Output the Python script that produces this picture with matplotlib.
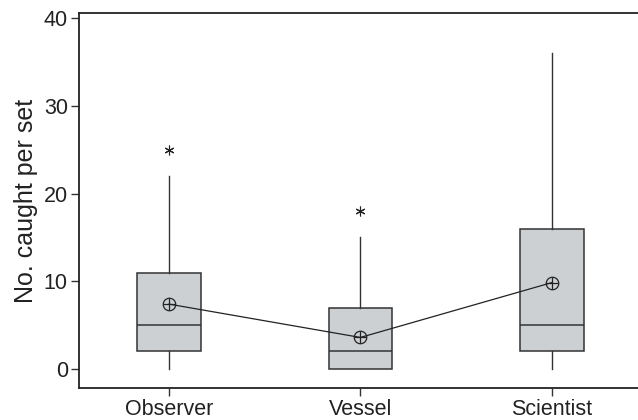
"""Box plot: catch per set by recorder"""

import matplotlib.pyplot as plt

plt.rcParams['font.family'] = ['Liberation Sans', 'DejaVu Sans']

# data
groups = ['Observer', 'Vessel', 'Scientist']
whisker_low = [0, 0, 0]
q1 = [2, 0, 2]
medians = [5, 2, 5]
q3 = [11, 7, 16]
whisker_high = [22, 15, 36]
outliers = [[25], [18], []]
means = [7.4, 3.6, 9.85]

positions = [1, 2, 3]
stats = []
for i, name in enumerate(groups):
    stats.append(dict(label=name, whislo=whisker_low[i], q1=q1[i], med=medians[i],
                      q3=q3[i], whishi=whisker_high[i], fliers=outliers[i]))

fig = plt.figure(figsize=(6.38, 4.2), dpi=100)
ax = fig.add_axes([0.1238, 0.0762, 0.8762, 0.8928])

line_col = '#333333'
ax.bxp(stats, positions=positions, widths=0.333, patch_artist=True, showcaps=False,
       boxprops=dict(facecolor='#cdd0d3', edgecolor=line_col, linewidth=1.1),
       medianprops=dict(color=line_col, linewidth=1.1),
       whiskerprops=dict(color=line_col, linewidth=1.0),
       flierprops=dict(marker=(6, 2, 0), markersize=7, markeredgecolor='#222222',
                       markeredgewidth=0.8, linestyle='none'))

# mean line with circle-plus markers
ax.plot(positions, means, color='#222222', linewidth=0.9, zorder=4)
ax.plot(positions, means, linestyle='none', marker='o', markersize=9,
        markerfacecolor='none', markeredgecolor='#222222', markeredgewidth=0.9, zorder=5)
ax.plot(positions, means, linestyle='none', marker='+', markersize=9,
        markeredgecolor='#222222', markeredgewidth=0.9, zorder=5)

ax.set_xlim(0.53, 3.45)
ax.set_ylim(-2.16, 40.57)
ax.set_yticks([0, 10, 20, 30, 40])
ax.set_xticks(positions)
ax.set_xticklabels(groups)
ax.set_ylabel('No. caught per set', fontsize=18, color='#222222', labelpad=4)

ax.spines['right'].set_visible(False)
for s in ['left', 'bottom', 'top']:
    ax.spines[s].set_linewidth(1.3)
    ax.spines[s].set_color('#222222')
ax.tick_params(axis='both', direction='out', length=6, width=1.0, color='#333333',
               labelsize=15.5, labelcolor='#222222', pad=2)

fig.savefig('out.png', dpi=100)
